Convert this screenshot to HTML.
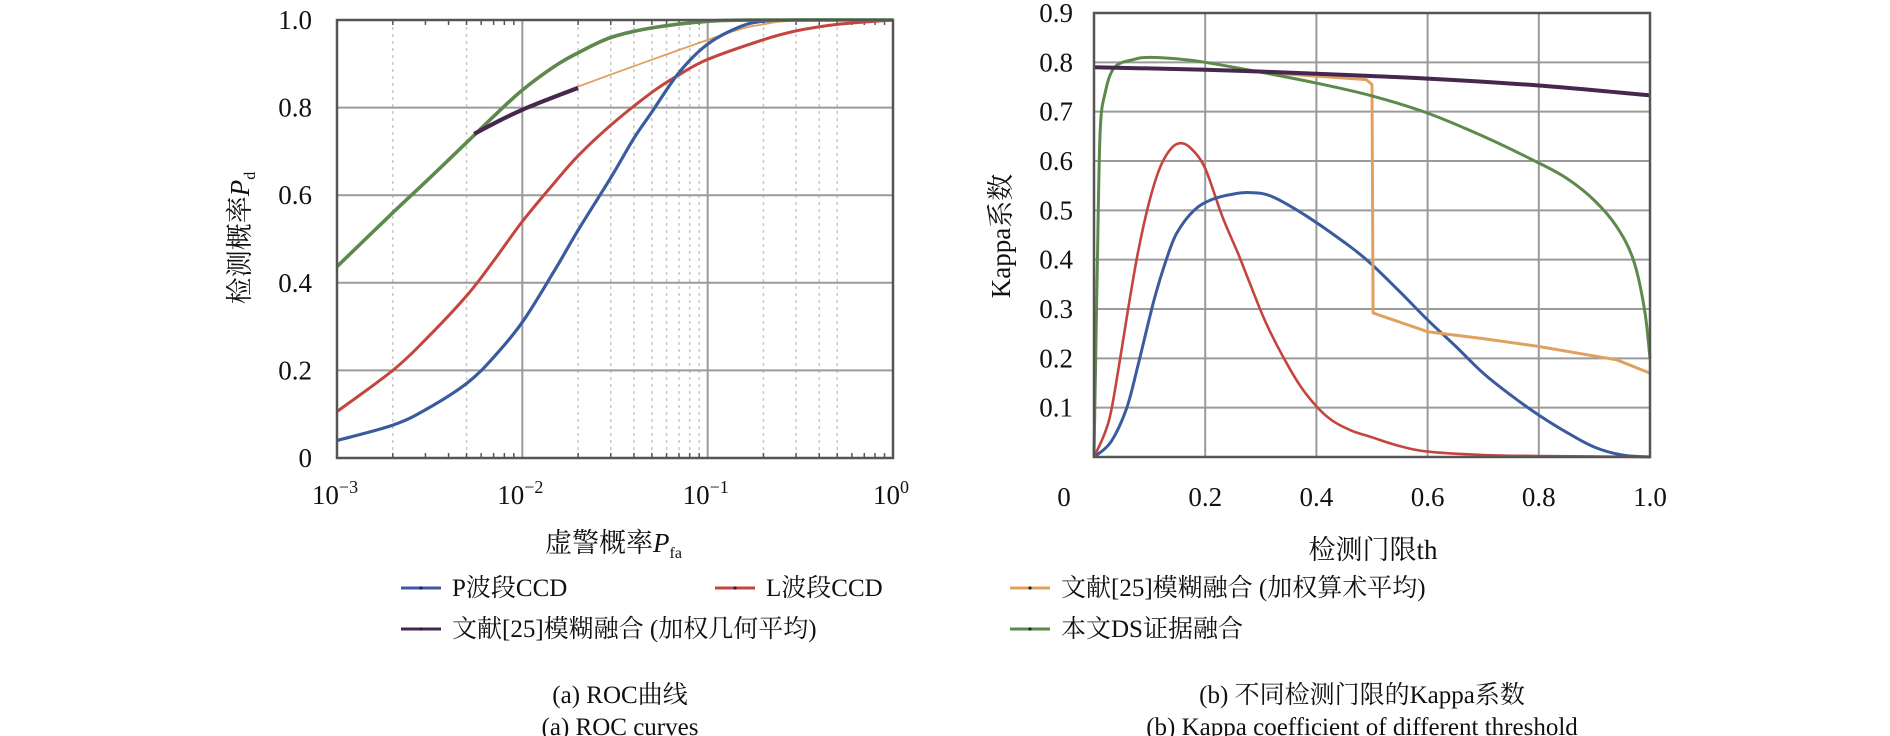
<!DOCTYPE html>
<html><head><meta charset="utf-8"><style>
html,body{margin:0;padding:0;background:#fff;}
svg{display:block;}
text{font-family:"Liberation Serif","Noto Serif CJK SC",serif;fill:#111;}
</style></head><body>
<svg id="fig" width="1890" height="736" viewBox="0 0 1890 736" xmlns="http://www.w3.org/2000/svg">
<g id="gA"></g>
<g id="gB"></g>
<g id="legend"></g>
<text x="620" y="703" font-size="25" text-anchor="middle">(a) ROC曲线</text>
<text x="620" y="735" font-size="25" text-anchor="middle">(a) ROC curves</text>
<text x="1362" y="703" font-size="25" text-anchor="middle">(b) 不同检测门限的Kappa系数</text>
<text x="1362" y="735" font-size="25" text-anchor="middle">(b) Kappa coefficient of different threshold</text>
</svg>
<script>
// ROC chart data (x = Pfa, y = Pd)
const rocBlueX = [0.001,0.002,0.003,0.005,0.007,0.01,0.015,0.02,0.03,0.04,0.05,0.07,0.1,0.15,0.2,0.3,1];
const rocBlueY = [0.04,0.075,0.11,0.17,0.23,0.31,0.43,0.52,0.64,0.73,0.79,0.88,0.945,0.985,0.997,1,1];
const rocRedX = [0.001,0.002,0.003,0.005,0.007,0.01,0.015,0.02,0.03,0.05,0.07,0.1,0.2,0.3,0.5,1];
const rocRedY = [0.106,0.2,0.27,0.37,0.45,0.54,0.63,0.69,0.76,0.835,0.875,0.91,0.955,0.975,0.99,1];
const rocGreenX = [0.001,0.002,0.003,0.005,0.007,0.01,0.015,0.02,0.03,0.05,0.1,0.2,1];
const rocGreenY = [0.437,0.56,0.63,0.72,0.78,0.84,0.895,0.925,0.96,0.982,0.997,1,1];
const rocOrangeX = [0.0055,0.01,0.02,0.12,0.2,0.3,1];
const rocOrangeY = [0.74,0.795,0.848,0.966,0.99,0.998,1];
const rocPurpleX = [0.0055,0.0075,0.01,0.014,0.02];
const rocPurpleY = [0.74,0.77,0.795,0.82,0.845];
const rocYTicks = [0,0.2,0.4,0.6,0.8,1.0];
const rocYTickLabels = ["0","0.2","0.4","0.6","0.8","1.0"];
const rocXTickExp = ["-3","-2","-1","0"];

// Kappa chart data (x = threshold, y = kappa)
const kBlueX = [0,0.03,0.059,0.08,0.108,0.13,0.149,0.18,0.212,0.25,0.281,0.32,0.384,0.46,0.5,0.55,0.6,0.65,0.7,0.75,0.8,0.85,0.9,0.95,1];
const kBlueY = [0,0.03,0.1,0.19,0.318,0.4,0.454,0.5,0.522,0.533,0.536,0.528,0.487,0.427,0.39,0.335,0.278,0.225,0.17,0.125,0.085,0.05,0.02,0.004,0];
const kRedX = [0,0.02,0.032,0.05,0.064,0.08,0.1,0.12,0.14,0.157,0.175,0.2,0.23,0.26,0.28,0.31,0.35,0.38,0.42,0.46,0.5,0.55,0.6,0.7,0.8,1];
const kRedY = [0,0.05,0.1,0.22,0.318,0.42,0.52,0.59,0.627,0.636,0.625,0.585,0.49,0.41,0.353,0.27,0.183,0.13,0.081,0.055,0.04,0.022,0.011,0.004,0.002,0];
const kGreenX = [0,0.003,0.006,0.011,0.02,0.037,0.072,0.1,0.15,0.2,0.3,0.4,0.5,0.6,0.7,0.8,0.85,0.9,0.94,0.97,0.99,1];
const kGreenY = [0,0.2,0.386,0.657,0.738,0.79,0.806,0.81,0.807,0.8,0.78,0.758,0.732,0.697,0.65,0.596,0.565,0.52,0.467,0.4,0.3,0.2];
const kPurpleX = [0,0.2,0.4,0.6,0.8,1];
const kPurpleY = [0.79,0.785,0.777,0.767,0.753,0.733];
const kOrangeX = [0,0.2,0.3,0.4,0.49,0.5,0.502,0.52,0.6,0.7,0.8,0.94,1.0];
const kOrangeY = [0.79,0.786,0.78,0.772,0.765,0.755,0.292,0.285,0.254,0.24,0.224,0.197,0.17];
const kYTicks = [0.1,0.2,0.3,0.4,0.5,0.6,0.7,0.8,0.9];
const kXTicks = [0.2,0.4,0.6,0.8,1.0];
const kXTickLabels = ["0.2","0.4","0.6","0.8","1.0"];

const NS = "http://www.w3.org/2000/svg";
function mk(tag, attrs, parent){const e=document.createElementNS(NS,tag);for(const k in attrs)e.setAttribute(k,attrs[k]);parent.appendChild(e);return e;}

const COL = {blue:"#3b5b9f",red:"#c4453e",orange:"#e0a060",purple:"#46284f",green:"#5d8a4c"};

// ---------- ROC ----------
const gA = document.getElementById("gA");
const A = {x0:337,x1:893,y0:458,y1:20};
function ax(v){return A.x0 + (Math.log10(v)+3)/3*(A.x1-A.x0);}
function ay(v){return A.y0 - v*(A.y0-A.y1);}
const minorList = [[2,5],[2,3,4,5,6,7,8,9],[2,3,4,5]];
minorList.forEach((arr,d)=>{arr.forEach(m=>{
  const x=ax(m*Math.pow(10,d-3));
  const l=mk("line",{x1:x,x2:x,y1:A.y1,y2:A.y0,stroke:"#c8c8c8","stroke-width":1.5,"stroke-dasharray":"3,4"},gA);
  
  
});});
for(let d=0;d<3;d++){for(let m=2;m<=9;m++){const x=ax(m*Math.pow(10,d-3));
  mk("line",{x1:x,x2:x,y1:A.y0,y2:A.y0-5,stroke:"#555","stroke-width":1.5},gA);
  mk("line",{x1:x,x2:x,y1:A.y1,y2:A.y1+5,stroke:"#555","stroke-width":1.5},gA);}}
rocYTicks.forEach((v,i)=>{
  const y=ay(v);
  if(v>0&&v<1){const l=mk("line",{x1:A.x0,x2:A.x1,y1:y,y2:y,stroke:"#9a9a9a","stroke-width":2},gA);
    
    }
  const t=mk("text",{x:312,y:y+9,"font-size":27,"text-anchor":"end"},gA);t.textContent=rocYTickLabels[i];
  
  
});
rocXTickExp.forEach((e,i)=>{
  const x=ax(Math.pow(10,+e));
  if(i>0&&i<3){const l=mk("line",{x1:x,x2:x,y1:A.y1,y2:A.y0,stroke:"#9a9a9a","stroke-width":2},gA);
    
    }
  const t=mk("text",{x:x-2,y:504,"font-size":27,"text-anchor":"middle"},gA);
  
  
  t.appendChild(document.createTextNode("10"));
  const s=mk("tspan",{dy:-11,"font-size":18},t);s.textContent=e==="0"?"0":"−"+e.slice(1);
});
function pathFrom(xs,ys,fx,fy){return xs.map((v,i)=>(i?"L":"M")+fx(v).toFixed(1)+","+fy(ys[i]).toFixed(1)).join("");}
function smoothPath(xs,ys,fx,fy){
  const p=xs.map((v,i)=>[fx(v),fy(ys[i])]);
  let d="M"+p[0][0].toFixed(1)+","+p[0][1].toFixed(1);
  for(let i=0;i<p.length-1;i++){
    const p0=p[i-1]||p[i],p1=p[i],p2=p[i+1],p3=p[i+2]||p2;
    const c1=[p1[0]+(p2[0]-p0[0])/6,p1[1]+(p2[1]-p0[1])/6];
    const c2=[p2[0]-(p3[0]-p1[0])/6,p2[1]-(p3[1]-p1[1])/6];
    d+="C"+c1.map(n=>n.toFixed(1))+" "+c2.map(n=>n.toFixed(1))+" "+p2[0].toFixed(1)+","+p2[1].toFixed(1);
  }
  return d;
}
const rocSeries=[
  ["roc-orange",rocOrangeX,rocOrangeY,COL.orange,1.8],
  ["roc-red",rocRedX,rocRedY,COL.red,3],
  ["roc-blue",rocBlueX,rocBlueY,COL.blue,3.2],
  ["roc-green",rocGreenX,rocGreenY,COL.green,3.6],
  ["roc-purple",rocPurpleX,rocPurpleY,COL.purple,4.2]];
rocSeries.forEach(s=>{
  const p=mk("path",{d:smoothPath(s[1],s[2],ax,ay),fill:"none",stroke:s[3],"stroke-width":s[4],"stroke-linejoin":"round"},gA);
  
  
});
const frA=mk("rect",{x:A.x0,y:A.y1,width:A.x1-A.x0,height:A.y0-A.y1,fill:"none",stroke:"#555","stroke-width":2.5},gA);


const xtA=mk("text",{x:545,y:552,"font-size":27},gA);


xtA.appendChild(document.createTextNode("虚警概率"));
mk("tspan",{"font-style":"italic"},xtA).textContent="P";
mk("tspan",{"font-size":16,dy:6},xtA).textContent="fa";
const ytA=mk("text",{x:0,y:0,"font-size":27,"text-anchor":"middle",transform:"translate(249,238) rotate(-90)"},gA);


ytA.appendChild(document.createTextNode("检测概率"));
mk("tspan",{"font-style":"italic"},ytA).textContent="P";
mk("tspan",{"font-size":16,dy:6},ytA).textContent="d";

// ---------- Kappa ----------
const gB=document.getElementById("gB");
const B={x0:1094,x1:1650,y0:457,y1:13};
function bx(v){return B.x0+v*(B.x1-B.x0);}
function by(v){return B.y0-v/0.9*(B.y0-B.y1);}
kYTicks.forEach(v=>{
  const y=by(v);
  if(v<0.9){const l=mk("line",{x1:B.x0,x2:B.x1,y1:y,y2:y,stroke:"#9a9a9a","stroke-width":2},gB);
    
    }
  const t=mk("text",{x:1073,y:y+9,"font-size":27,"text-anchor":"end"},gB);t.textContent=v.toFixed(1);
  
  
});
kXTicks.forEach((v,i)=>{
  const x=bx(v);
  if(v<1){const l=mk("line",{x1:x,x2:x,y1:B.y1,y2:B.y0,stroke:"#9a9a9a","stroke-width":2},gB);
    
    }
  const t=mk("text",{x:x,y:506,"font-size":27,"text-anchor":"middle"},gB);t.textContent=kXTickLabels[i];
  
  
});
const z=mk("text",{x:1064,y:506,"font-size":27,"text-anchor":"middle"},gB);z.textContent="0";


const kSeries=[
  ["kappa-red",kRedX,kRedY,COL.red,2.6,true],
  ["kappa-blue",kBlueX,kBlueY,COL.blue,3,true],
  ["kappa-orange",kOrangeX,kOrangeY,COL.orange,3,false],
  ["kappa-green",kGreenX,kGreenY,COL.green,3,true],
  ["kappa-purple",kPurpleX,kPurpleY,COL.purple,4,true]];
kSeries.forEach(s=>{
  const d=s[5]?smoothPath(s[1],s[2],bx,by):pathFrom(s[1],s[2],bx,by);
  const p=mk("path",{d:d,fill:"none",stroke:s[3],"stroke-width":s[4],"stroke-linejoin":"round"},gB);
  
  
});
const frB=mk("rect",{x:B.x0,y:B.y1,width:B.x1-B.x0,height:B.y0-B.y1,fill:"none",stroke:"#555","stroke-width":2.5},gB);


const xtB=mk("text",{x:1373,y:559,"font-size":27,"text-anchor":"middle"},gB);xtB.textContent="检测门限th";


const ytB=mk("text",{x:0,y:0,"font-size":27,"text-anchor":"middle",transform:"translate(1010,236) rotate(-90)"},gB);ytB.textContent="Kappa系数";



// ---------- Legend ----------
const lg=document.getElementById("legend");
const legendNames=["P波段CCD","L波段CCD","文献[25]模糊融合 (加权算术平均)","文献[25]模糊融合 (加权几何平均)","本文DS证据融合"];
const legendCols=[COL.blue,COL.red,COL.orange,COL.purple,COL.green];
const legendX=[401,715,1010,401,1010];
const legendY=[596,596,596,637,637];
legendNames.forEach((n,i)=>{
  const g=mk("g",{},lg);
  
  
  mk("line",{x1:legendX[i],x2:legendX[i]+40,y1:legendY[i]-8,y2:legendY[i]-8,stroke:legendCols[i],"stroke-width":3},g);
  mk("circle",{cx:legendX[i]+20,cy:legendY[i]-8,r:1.6,fill:"#223"},g);
  const t=mk("text",{x:legendX[i]+51,y:legendY[i],"font-size":25},g);t.textContent=n;
});
</script>
</body></html>
